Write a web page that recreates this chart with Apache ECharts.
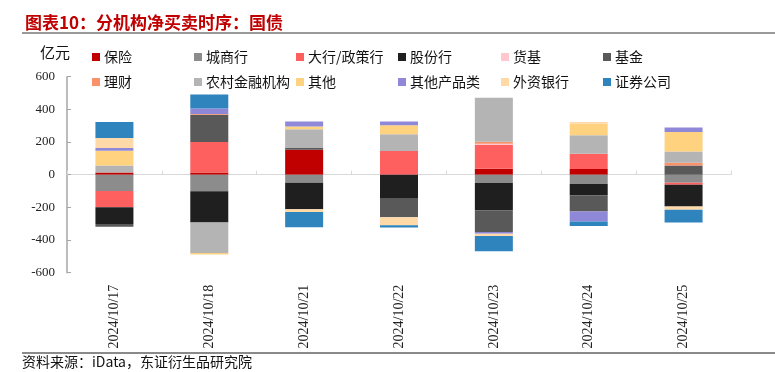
<!DOCTYPE html>
<html><head><meta charset="utf-8">
<script src="https://cdn.jsdelivr.net/npm/echarts@6/dist/echarts.min.js"></script>
<style>html,body{margin:0;padding:0;background:#fff}#c{width:775px;height:372px}</style>
</head><body><div id="c"></div>
<script>
const categories = ['2024/10/17','2024/10/18','2024/10/21','2024/10/22','2024/10/23','2024/10/24','2024/10/25'];
const seriesNames = ['保险','城商行','大行/政策行','股份行','货基','基金','理财','农村金融机构','其他','其他产品类','外资银行','证券公司'];
const baoxian   = [14, 14, 153, 0, 37, 35, 0];
const chengshang= [-100, -102, -49, 0, -51, -57, -49];
const daxing    = [-100, 186, 0, 145, 145, 94, -12];
const gufen     = [-102, -190, -163, -147, -167, -71, -133];
const huoji     = [0, 0, 0, 0, 8, 0, 0];
const jijin     = [-16, 167, 10, -114, -133, -98, 57];
const licai     = [0, 5, 0, 0, 12, 0, 16];
const nongcun   = [43, -188, 116, 102, 269, 112, 69];
const qita      = [90, -8, 16, 55, 0, 71, 120];
const qitachanpin=[16, 33, 31, 24, -10, -61, 27];
const waizi     = [61, 0, -16, -49, -14, 10, -20];
const zhengquan = [98, 86, -94, -14, -94, -27, -78];
const yTicks = [-600, -400, -200, 0, 200, 400, 600];

const allData = [baoxian, chengshang, daxing, gufen, huoji, jijin, licai, nongcun, qita, qitachanpin, waizi, zhengquan];
const colors = ['#c00000','#8c8c8c','#fe5f5f','#1f1f1f','#ffc7ce','#595959','#f9926a','#b4b4b4','#ffd27f','#8f88d8','#ffd9a8','#2f84be'];
const legendX = [87, 189, 291, 393, 496, 598];
const legendY = [45, 70];
const serifFont = 'serif';

const chart = echarts.init(document.getElementById('c'));
const legends = seriesNames.map((n, i) => ({
  data: [n],
  left: legendX[i % 6],
  top: legendY[Math.floor(i / 6)],
  icon: 'rect', itemWidth: 8, itemHeight: 8, itemGap: 0,
  selectedMode: false,
  textStyle: { fontFamily: 'Noto Sans CJK SC', fontSize: 14, color: '#111', padding: [0,0,0,-1] }
}));
chart.setOption({
  animation: false,
  color: colors,
  title: {
    text: '图表10：分机构净买卖时序：国债',
    left: 20, top: 9,
    textStyle: { fontFamily: 'Noto Sans CJK SC', fontSize: 17, fontWeight: 'bold', color: '#c00000' }
  },
  legend: legends,
  grid: { left: 67, right: 44, top: 76.7, bottom: 99.3 },
  xAxis: [{
    type: 'category', data: categories, position: 'bottom',
    axisLine: { onZero: true, lineStyle: { color: '#d9d9d9', width: 1 } },
    axisTick: { show: true, inside: true, length: 4, lineStyle: { color: '#d9d9d9' } },
    axisLabel: { show: false }
  }, {
    type: 'category', data: categories, position: 'bottom',
    axisLine: { show: false, onZero: false }, axisTick: { show: false },
    axisLabel: { rotate: 90, margin: 12, fontFamily: serifFont, fontSize: 14, color: '#222' }
  }],
  yAxis: {
    type: 'value', min: yTicks[0], max: yTicks[yTicks.length - 1], interval: 200,
    axisLine: { show: true, lineStyle: { color: '#a6a6a6', width: 1.5 } },
    axisTick: { show: true, inside: true, length: 4, lineStyle: { color: '#a6a6a6' } },
    splitLine: { show: false },
    axisLabel: { margin: 12, fontFamily: serifFont, fontSize: 13, color: '#222' }
  },
  series: seriesNames.map((n, i) => ({
    name: n, type: 'bar', stack: 'all', barWidth: 38, xAxisIndex: 0,
    data: allData[i],
    itemStyle: { color: colors[i] }
  })),
  graphic: [
    { type: 'line', shape: { x1: 22, y1: 33, x2: 775, y2: 33 }, style: { stroke: '#9a9a9a', lineWidth: 2 } },
    { type: 'line', shape: { x1: 22, y1: 353, x2: 775, y2: 353 }, style: { stroke: '#8a8a8a', lineWidth: 2 } },
    { type: 'text', left: 40, top: 45, style: { text: '亿元', fontFamily: 'Noto Sans CJK SC', fontSize: 15, fill: '#111' } },
    { type: 'text', left: 22, top: 355, style: { text: '资料来源：iData，东证衍生品研究院', fontFamily: 'Noto Sans CJK SC', fontSize: 14, fill: '#111' } }
  ]
});
</script></body></html>
